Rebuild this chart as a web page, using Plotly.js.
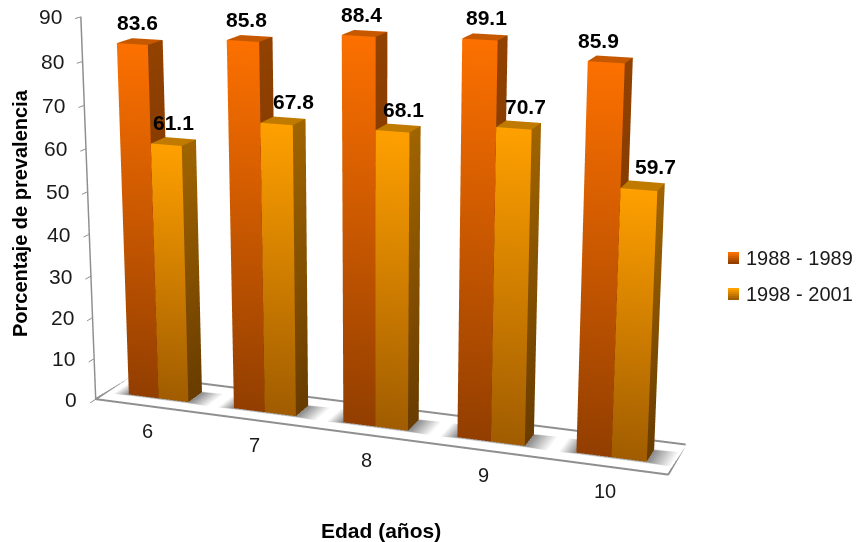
<!DOCTYPE html>
<html lang="es"><head><meta charset="utf-8"><title>Prevalencia por edad</title>
<script src="https://cdn.plot.ly/plotly-3.0.1.min.js"></script>
<style>html,body{margin:0;padding:0;overflow:hidden;width:857px;height:542px;background:#fff}#chart{position:absolute}</style></head>
<body><div id="chart"></div>
<script>
// Prevalence by age for two survey periods
const categories = ['6', '7', '8', '9', '10'];
const seriesNames = ['1988 - 1989', '1998 - 2001'];
const values1988 = [83.6, 85.8, 88.4, 89.1, 85.9];
const values1998 = [61.1, 67.8, 68.1, 70.7, 59.7];
const zTicks = [0, 10, 20, 30, 40, 50, 60, 70, 80, 90];

// Horizontal nudges (px) for the value labels
const nudge1988 = [-2, -3, -3, 1, -12];
const nudge1998 = [0, 10, 5, 7, 13];

// Bar footprint in category and depth units
const barW = 2 / 7, depth0 = 0.3, depth1 = 0.7;

// Face colours per series: [top, bottom]
const palette = [
  {front: ['rgb(252,112,0)', 'rgb(146,62,0)'], side: ['rgb(146,66,0)', 'rgb(108,46,0)'], top: 'rgb(198,88,0)'},
  {front: ['rgb(255,160,0)', 'rgb(160,92,0)'], side: ['rgb(160,100,0)', 'rgb(104,60,0)'], top: 'rgb(192,122,0)'}
];

// The plot is larger than the window so that the long 45 degree lens gives a flat perspective
const plotW = 970, plotH = 1590, plotLeft = -113, plotTop = -564;
const chart = document.getElementById('chart');
chart.style.left = plotLeft + 'px';
chart.style.top = plotTop + 'px';
const paperX = px => (px - plotLeft) / plotW;
const paperY = py => 1 - (py - plotTop) / plotH;

const font = 'Liberation Sans, Arial, sans-serif';

function meshBuilder() {
  const m = {x: [], y: [], z: [], i: [], j: [], k: [], vertexcolor: []};
  m.quad = (pts, cols) => {
    const n = m.x.length;
    pts.forEach((p, t) => { m.x.push(p[0]); m.y.push(p[1]); m.z.push(p[2]); m.vertexcolor.push(cols[t]); });
    m.i.push(n, n); m.j.push(n + 1, n + 2); m.k.push(n + 2, n + 3);
  };
  return m;
}

function barMesh(vals, s, name) {
  const m = meshBuilder(), c = palette[s];
  vals.forEach((v, idx) => {
    const a = idx - barW + s * barW, b = a + barW;
    m.quad([[a, depth0, 0], [b, depth0, 0], [b, depth0, v], [a, depth0, v]], [c.front[1], c.front[1], c.front[0], c.front[0]]);
    m.quad([[b, depth0, 0], [b, depth1, 0], [b, depth1, v], [b, depth0, v]], [c.side[1], c.side[1], c.side[0], c.side[0]]);
    m.quad([[a, depth0, v], [b, depth0, v], [b, depth1, v], [a, depth1, v]], [c.top, c.top, c.top, c.top]);
  });
  return {type: 'mesh3d', name, x: m.x, y: m.y, z: m.z, i: m.i, j: m.j, k: m.k, vertexcolor: m.vertexcolor,
    flatshading: true, lighting: {ambient: 1, diffuse: 0, specular: 0, roughness: 1, fresnel: 0}, hoverinfo: 'skip', showscale: false};
}

// Soft contact shadow on the floor around each pair of bars
function shadowMesh() {
  const m = meshBuilder(), dark = 'rgb(136,136,136)', clear = 'rgb(255,255,255)';
  categories.forEach((_, idx) => {
    const ia = idx - barW, ib = idx + barW, iy0 = depth0, iy1 = depth1 - 0.02;
    const oa = ia - 0.14, ob = ib + 0.2, oy0 = depth0 - 0.05, oy1 = depth1 + 0.03;
    const inner = [[ia, iy0, 0], [ib, iy0, 0], [ib, iy1, 0], [ia, iy1, 0]];
    const outer = [[oa, oy0, 0], [ob, oy0, 0], [ob, oy1, 0], [oa, oy1, 0]];
    for (let t = 0; t < 4; t++) {
      const u = (t + 1) % 4;
      m.quad([inner[t], inner[u], outer[u], outer[t]], [dark, dark, clear, clear]);
    }
  });
  return {type: 'mesh3d', x: m.x, y: m.y, z: m.z, i: m.i, j: m.j, k: m.k, vertexcolor: m.vertexcolor,
    lighting: {ambient: 1, diffuse: 0, specular: 0, roughness: 1, fresnel: 0}, hoverinfo: 'skip', showscale: false};
}

const floorOutline = {type: 'scatter3d', mode: 'lines', x: [-0.5, 4.5, 4.5, -0.5, -0.5], y: [0, 0, 1, 1, 0], z: [0, 0, 0, 0, 0],
  line: {color: '#8f8f8f', width: 4}, hoverinfo: 'skip', showlegend: false};

// Scene annotations keep the labels as text tied to the data coordinates
const sceneNotes = [];
zTicks.forEach(t => sceneNotes.push({x: -0.5, y: 0, z: t, text: String(t), showarrow: false, xanchor: 'right', yanchor: 'middle',
  xshift: -17, font: {family: font, size: 21, color: '#1a1a1a'}}));
categories.forEach((c, idx) => sceneNotes.push({x: idx, y: 0, z: 0, text: c, showarrow: false, xanchor: 'center', yanchor: 'middle',
  yshift: -25, font: {family: font, size: 20, color: '#1a1a1a'}}));
[values1988, values1998].forEach((vals, s) => vals.forEach((v, idx) => sceneNotes.push({
  x: idx - barW + s * barW + barW / 2, y: 0.5, z: v, text: '<b>' + v.toFixed(1) + '</b>', showarrow: false, xanchor: 'center', yanchor: 'middle',
  yshift: 19, xshift: (s ? nudge1998 : nudge1988)[idx], font: {family: font, size: 21, color: '#000'}})));

// Legend: stepped swatches and labels in paper space
const swatchShapes = [];
const mix = (a, b, t) => { const p = q => q.match(/\d+/g).map(Number), A = p(a), B = p(b);
  return 'rgb(' + A.map((v, i) => Math.round(v + (B[i] - v) * t)).join(',') + ')'; };
const legendNotes = seriesNames.map((name, s) => {
  const y0 = s ? 288 : 252, steps = 6;
  for (let k = 0; k < steps; k++) {
    swatchShapes.push({type: 'rect', xref: 'paper', yref: 'paper', layer: 'above', x0: paperX(728), x1: paperX(739),
      y0: paperY(y0 + k * 2), y1: paperY(y0 + (k + 1) * 2), line: {width: 0}, fillcolor: mix(palette[s].front[0], palette[s].front[1], k / (steps - 1))});
  }
  return {xref: 'paper', yref: 'paper', x: paperX(744), y: paperY(y0 + 6), text: name, showarrow: false, xanchor: 'left', yanchor: 'middle',
    font: {family: font, size: 20, color: '#1a1a1a'}};
});

const axisTitles = [
  {xref: 'paper', yref: 'paper', x: paperX(20), y: paperY(213), text: '<b>Porcentaje de prevalencia</b>', textangle: -90, showarrow: false,
    xanchor: 'center', yanchor: 'middle', font: {family: font, size: 20, color: '#000'}},
  {xref: 'paper', yref: 'paper', x: paperX(381), y: paperY(530), text: '<b>Edad (años)</b>', showarrow: false,
    xanchor: 'center', yanchor: 'middle', font: {family: font, size: 21, color: '#000'}}
];

const hiddenAxis = {visible: false, showspikes: false};
Plotly.newPlot(chart,
  [shadowMesh(), floorOutline, barMesh(values1988, 0, seriesNames[0]), barMesh(values1998, 1, seriesNames[1])],
  {
    width: plotW, height: plotH, margin: {l: 0, r: 0, t: 0, b: 0}, paper_bgcolor: '#fff', showlegend: false,
    shapes: swatchShapes, annotations: axisTitles.concat(legendNotes),
    scene: {
      domain: {x: [0, 1], y: [0, 1]}, aspectmode: 'manual', aspectratio: {x: 1, y: 0.1374, z: 0.6641},
      xaxis: Object.assign({range: [-0.5, 4.5]}, hiddenAxis),
      yaxis: Object.assign({range: [0, 1]}, hiddenAxis),
      zaxis: {range: [0, 90], tickvals: zTicks, showticklabels: false, showgrid: false, zeroline: false, showbackground: false,
        showline: true, linecolor: '#8f8f8f', linewidth: 3, ticks: 'outside', ticklen: 8, tickcolor: '#8f8f8f', tickwidth: 2, title: {text: ''}, showspikes: false},
      camera: {eye: {x: 1.0308, y: -2.8458, z: 0.7958}, center: {x: -0.0106, y: -0.0152, z: 0}, up: {x: 0.0023, y: 0, z: 1}},
      annotations: sceneNotes
    }
  },
  {displayModeBar: false});
</script></body></html>
